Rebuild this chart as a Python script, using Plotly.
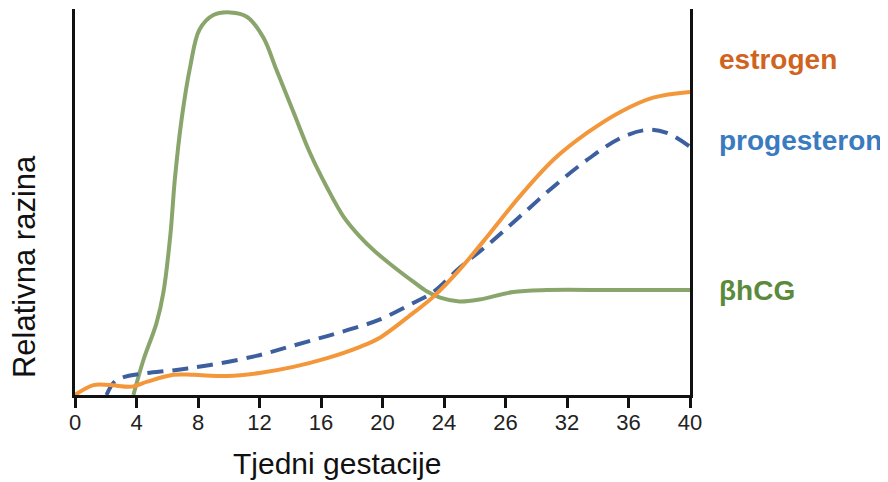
import plotly.graph_objects as go

# weeks of gestation (x) and relative level (y, 0-100)
hcg_weeks = [3.8, 4.45, 5.3, 5.75, 6.2, 6.5, 6.95, 7.5, 8.1, 9.0, 10.1, 11.2, 12.25, 13.1, 14.2, 15.3, 16.4, 17.45, 18.5, 19.5, 20.7, 22.0, 22.9, 23.75, 25.0, 26.3, 28.5, 30.7, 35.0, 40.0]
hcg_level = [0.0, 9.2, 18.9, 27.0, 42.0, 57.0, 73.0, 86.5, 96.1, 99.9, 100.6, 99.4, 94.0, 85.5, 74.5, 63.5, 54.5, 47.0, 41.8, 37.8, 33.8, 29.8, 27.2, 25.6, 24.6, 25.1, 27.1, 27.6, 27.6, 27.6]

est_weeks = [0.0, 1.2, 2.3, 3.7, 4.7, 6.4, 7.7, 9.9, 12.0, 14.2, 16.4, 18.5, 19.8, 22.0, 23.3, 25.0, 27.0, 28.9, 31.1, 33.3, 35.5, 37.6, 40.0]
est_level = [0.0, 2.6, 2.6, 2.2, 3.5, 5.3, 5.3, 5.0, 5.8, 7.4, 9.7, 12.6, 15.0, 21.6, 25.8, 32.9, 42.6, 52.1, 61.8, 68.9, 74.5, 78.2, 79.7]

prog_weeks = [2.05, 2.5, 3.1, 4.4, 6.6, 8.8, 11.8, 14.2, 16.4, 18.5, 19.8, 22.0, 23.3, 25.0, 27.0, 28.9, 31.1, 33.3, 35.5, 37.2, 38.5, 40.0]
prog_level = [0.0, 3.2, 4.6, 5.6, 6.6, 7.9, 10.3, 13.0, 15.5, 18.0, 19.8, 24.2, 27.1, 33.4, 40.0, 46.8, 54.7, 61.8, 67.6, 69.7, 68.9, 65.3]

tick_vals = [0, 4, 8, 12, 16, 20, 24, 28, 32, 36, 40]
tick_text = ["0", "4", "8", "12", "16", "20", "24", "26", "32", "36", "40"]

series_labels = ["estrogen", "progesteron", "βhCG"]
label_levels = [88.1, 66.8, 27.6]
label_colors = ["#d0631d", "#3a7abf", "#5b8b3a"]

FONT = "Liberation Sans, Arial, sans-serif"

fig = go.Figure()
fig.add_trace(go.Scatter(x=hcg_weeks, y=hcg_level, mode="lines",
                         line=dict(color="#8aa56b", width=4, shape="spline", smoothing=1.0),
                         showlegend=False))
fig.add_trace(go.Scatter(x=prog_weeks, y=prog_level, mode="lines",
                         line=dict(color="#3d5f9f", width=4, shape="spline", dash="16px,9px", smoothing=1.0),
                         showlegend=False))
fig.add_trace(go.Scatter(x=est_weeks, y=est_level, mode="lines",
                         line=dict(color="#f3973a", width=4, shape="spline", smoothing=1.0),
                         showlegend=False))

for txt, lv, col in zip(series_labels, label_levels, label_colors):
    fig.add_annotation(x=1.044, xref="paper", y=lv, yref="y", text="<b>%s</b>" % txt,
                       showarrow=False, xanchor="left", yanchor="middle",
                       font=dict(family=FONT, size=28, color=col))

fig.add_annotation(x=-0.083, xref="paper", y=0.334, yref="paper", text="Relativna razina",
                   textangle=-90, showarrow=False, xanchor="center", yanchor="middle",
                   font=dict(family=FONT, size=31, color="#111"))
fig.add_annotation(x=0.426, xref="paper", y=-0.178, yref="paper", text="Tjedni gestacije",
                   showarrow=False, xanchor="center", yanchor="middle",
                   font=dict(family=FONT, size=30, color="#111"))

fig.update_layout(
    width=880, height=474,
    margin=dict(l=67, r=198, t=1, b=87),
    paper_bgcolor="white", plot_bgcolor="white",
    font=dict(family=FONT, color="#222"),
    xaxis=dict(range=[0, 40], tickvals=tick_vals, ticktext=tick_text,
               showgrid=False, zeroline=False, showline=True, linecolor="#111", linewidth=2.5,
               ticks="outside", ticklen=10, tickwidth=2.5, tickcolor="#111",
               ticklabelstandoff=-4,
               tickfont=dict(size=22, color="#222")),
    yaxis=dict(range=[0, 101.5], showgrid=False, zeroline=False, showline=True, mirror=True,
               linecolor="#111", linewidth=2.5, showticklabels=False, ticks=""),
)

fig.write_html("out.html")
